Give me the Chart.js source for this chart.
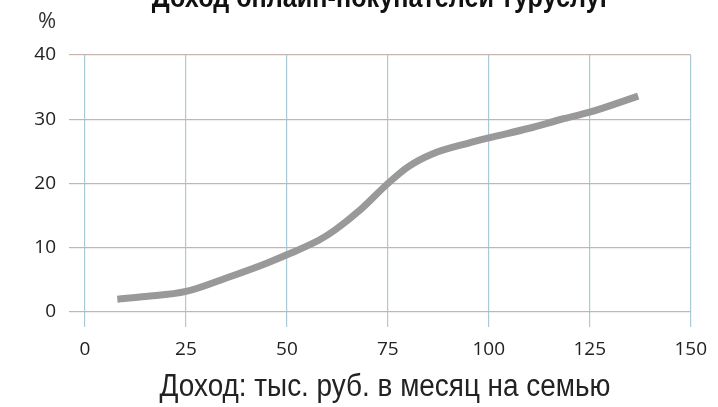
<!DOCTYPE html>
<html>
<head>
<meta charset="utf-8">
<script src="https://cdn.jsdelivr.net/npm/chart.js@4.4.0/dist/chart.umd.min.js"></script>
<style>
  html, body { margin: 0; padding: 0; background: #fff; }
  #wrap { width: 718px; height: 407px; position: relative; }
</style>
</head>
<body>
<div id="wrap"><canvas id="chart" width="718" height="407"></canvas></div>
<script>
// income, thousand rub per month per family
const income = [8, 15, 25, 35, 45, 50, 58, 62, 68, 75, 80, 86, 95, 100, 110, 118, 125, 137];
// share of online buyers, %
const share = [2.0, 2.4, 3.2, 5.3, 7.6, 8.9, 11.2, 12.8, 15.8, 20.0, 22.6, 24.6, 26.3, 27.1, 28.6, 30.0, 31.1, 33.6];

const xTicks = [0, 25, 50, 75, 100, 125, 150];
const yTicks = [0, 10, 20, 30, 40];

const chartTitle = 'Доход онлайн-покупателей туруслуг';
const xTitle = 'Доход: тыс. руб. в месяц на семью';
const yUnit = '%';

const points = income.map((x, i) => ({ x: x, y: share[i] }));

// condensed texts drawn by hand (no narrow font available)
function narrowText(ctx, text, cx, y, font, sx) {
    ctx.save();
    ctx.translate(cx, y);
    ctx.scale(sx, 1);
    ctx.font = font;
    ctx.textAlign = 'center';
    ctx.fillText(text, 0, 0);
    ctx.restore();
}

const extraText = {
    id: 'extraText',
    afterDraw(chart) {
        const ctx = chart.ctx;
        ctx.save();
        ctx.fillStyle = '#111';
        ctx.textBaseline = 'alphabetic';
        narrowText(ctx, chartTitle, 381, 7, 'bold 30px "Liberation Sans", sans-serif', 0.84);
        ctx.fillStyle = '#222';
        narrowText(ctx, xTitle, 385, 396, '31px "Liberation Sans", sans-serif', 0.9);
        ctx.textAlign = 'left';
        ctx.font = '22px "Open Sans", sans-serif';
        ctx.fillStyle = '#333';
        ctx.fillText(yUnit, 38, 28);
        ctx.restore();
    }
};

new Chart(document.getElementById('chart').getContext('2d'), {
    type: 'line',
    data: {
        datasets: [{
            data: points,
            borderColor: '#999999',
            borderWidth: 7,
            borderCapStyle: 'butt',
            cubicInterpolationMode: 'monotone',
            pointRadius: 0,
            fill: false
        }]
    },
    options: {
        responsive: false,
        animation: false,
        layout: { padding: { top: 55, right: 27, left: 0, bottom: 0 } },
        plugins: {
            legend: { display: false },
            tooltip: { enabled: false }
        },
        scales: {
            x: {
                type: 'linear',
                min: 0,
                max: 150,
                afterBuildTicks: (scale) => { scale.ticks = xTicks.map(v => ({ value: v })); },
                afterFit: (scale) => { scale.height = 95; },
                border: { display: false },
                grid: { color: '#a9cbd7', lineWidth: 1.2, tickLength: 15 },
                ticks: {
                    color: '#222',
                    padding: 11,
                    font: { family: '"Open Sans", sans-serif', size: 19 }
                }
            },
            y: {
                min: 0,
                max: 40,
                afterBuildTicks: (scale) => { scale.ticks = yTicks.map(v => ({ value: v })); },
                afterFit: (scale) => { scale.width = 85; },
                border: { display: false },
                grid: { color: '#c9b5ae', lineWidth: 1.2, tickLength: 16 },
                ticks: {
                    color: '#222',
                    padding: 13,
                    font: { family: '"Open Sans", sans-serif', size: 19 }
                }
            }
        }
    },
    plugins: [extraText]
});
</script>
</body>
</html>
